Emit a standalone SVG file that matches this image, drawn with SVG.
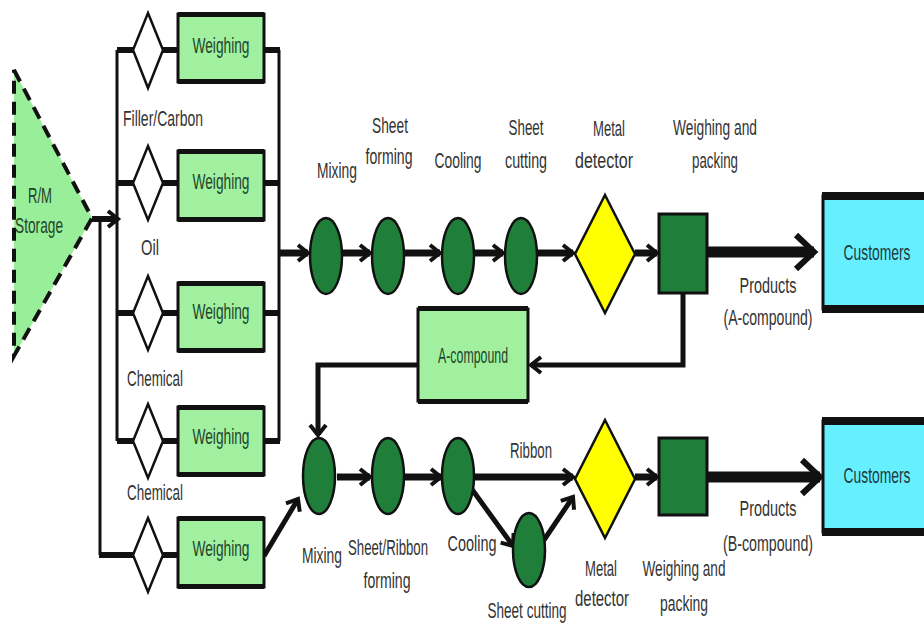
<svg xmlns="http://www.w3.org/2000/svg" width="924" height="624" viewBox="0 0 924 624">
<defs>
<style>
.t{font-family:"Liberation Sans",Arial,sans-serif;font-size:22px;fill:#333;text-anchor:middle}
.bt{fill:#24442a}
.ct{fill:#1f3a40}
.box{fill:#a0f0a0;stroke:#111;stroke-width:3}
.band{fill:#111}
.dia{fill:#fff;stroke:#111;stroke-width:2.5}
.ell{fill:#1f7f3a;stroke:#111;stroke-width:2.5}
.sq{fill:#1f7f3a;stroke:#111;stroke-width:3}
.yd{fill:#ffff00;stroke:#111;stroke-width:2.5}
.cust{fill:#66f0ff;stroke:#111;stroke-width:3}
.w{fill:none;stroke:#111;stroke-linecap:butt}
</style>
<marker id="ah" markerUnits="userSpaceOnUse" markerWidth="18" markerHeight="22" refX="12" refY="10" orient="auto">
<path d="M2,2 L12,10 L2,18" fill="none" stroke="#111" stroke-width="4"/>
</marker>
<marker id="ahb" markerUnits="userSpaceOnUse" markerWidth="30" markerHeight="44" refX="22" refY="20" orient="auto">
<path d="M4,3 L22,20 L4,37" fill="none" stroke="#111" stroke-width="6"/>
</marker>
</defs>
<rect width="924" height="624" fill="#fff"/>

<g id="connectors">
<path class="w" d="M92,219 H118" stroke-width="6" marker-end="url(#ah)"/>
<path class="w" d="M117,50 V441" stroke-width="3"/>
<path class="w" d="M100,219 V555" stroke-width="3"/>
<path class="w" d="M117,50 H134 M117,183 H134 M117,313 H134 M117,441 H134" stroke-width="6"/>
<path class="w" d="M99,555 H134" stroke-width="6"/>
<path class="w" d="M162,50 H179 M162,183 H179 M162,313 H179 M162,441 H179 M162,555 H179" stroke-width="6"/>
<path class="w" d="M263,50 H280 M263,183 H280 M263,313 H280 M263,441 H280" stroke-width="6"/>
<path class="w" d="M279,50 V441" stroke-width="3"/>
<path class="w" d="M279,253 H308" stroke-width="7" marker-end="url(#ah)"/>
<path class="w" d="M342,253 H370" stroke-width="7" marker-end="url(#ah)"/>
<path class="w" d="M404,253 H440" stroke-width="7" marker-end="url(#ah)"/>
<path class="w" d="M474,253 H503" stroke-width="7" marker-end="url(#ah)"/>
<path class="w" d="M537,253 H573" stroke-width="7" marker-end="url(#ah)"/>
<path class="w" d="M635,253 H657" stroke-width="7" marker-end="url(#ah)"/>
<path class="w" d="M707,252 H814" stroke-width="11" marker-end="url(#ahb)"/>
<path class="w" d="M683,293 V365 H531" stroke-width="5" marker-end="url(#ah)"/>
<path class="w" d="M418,365 H318 V435" stroke-width="5" marker-end="url(#ah)"/>
<path class="w" d="M264,556 L298,499" stroke-width="5" marker-end="url(#ah)"/>
<path class="w" d="M337,477 H370" stroke-width="7" marker-end="url(#ah)"/>
<path class="w" d="M404,477 H441" stroke-width="7" marker-end="url(#ah)"/>
<path class="w" d="M473,477 H573" stroke-width="7" marker-end="url(#ah)"/>
<path class="w" d="M471,488 L513,546" stroke-width="5" marker-end="url(#ah)"/>
<path class="w" d="M544,540 L573,497" stroke-width="5" marker-end="url(#ah)"/>
<path class="w" d="M635,477 H657" stroke-width="7" marker-end="url(#ah)"/>
<path class="w" d="M707,477 H820" stroke-width="11" marker-end="url(#ahb)"/>
</g>

<g id="storage">
<polygon points="14,70 92,218 14,356" fill="#99ee99" stroke="#111" stroke-width="4" stroke-dasharray="13,8"/>
<text class="t bt" transform="translate(40,203) scale(0.63,1)" textLength="38.1" lengthAdjust="spacingAndGlyphs">R/M</text>
<text class="t bt" transform="translate(39,233) scale(0.63,1)" textLength="76.2" lengthAdjust="spacingAndGlyphs">Storage</text>
</g>

<g id="valve1"><polygon class="dia" points="148,13 163,50 148,88 133,50"/></g>
<g id="valve2"><polygon class="dia" points="148,146 163,183 148,220 133,183"/></g>
<g id="valve3"><polygon class="dia" points="148,276 163,313 148,350 133,313"/></g>
<g id="valve4"><polygon class="dia" points="148,404 163,441 148,478 133,441"/></g>
<g id="valve5"><polygon class="dia" points="148,518 163,555 148,592 133,555"/></g>

<g id="weigh1"><rect class="box" x="178" y="14" width="86" height="68"/><rect class="band" x="178" y="12" width="86" height="5"/><rect class="band" x="178" y="79" width="86" height="5"/><text class="t bt" transform="translate(221,53) scale(0.63,1)" textLength="90.5" lengthAdjust="spacingAndGlyphs">Weighing</text></g>
<g id="weigh2"><rect class="box" x="178" y="151" width="86" height="69"/><rect class="band" x="178" y="149" width="86" height="5"/><rect class="band" x="178" y="217" width="86" height="5"/><text class="t bt" transform="translate(221,189) scale(0.63,1)" textLength="90.5" lengthAdjust="spacingAndGlyphs">Weighing</text></g>
<g id="weigh3"><rect class="box" x="178" y="283" width="86" height="68"/><rect class="band" x="178" y="281" width="86" height="5"/><rect class="band" x="178" y="348" width="86" height="5"/><text class="t bt" transform="translate(221,319) scale(0.63,1)" textLength="90.5" lengthAdjust="spacingAndGlyphs">Weighing</text></g>
<g id="weigh4"><rect class="box" x="178" y="407" width="86" height="68"/><rect class="band" x="178" y="405" width="86" height="5"/><rect class="band" x="178" y="472" width="86" height="5"/><text class="t bt" transform="translate(221,444) scale(0.63,1)" textLength="90.5" lengthAdjust="spacingAndGlyphs">Weighing</text></g>
<g id="weigh5"><rect class="box" x="178" y="518" width="86" height="69"/><rect class="band" x="178" y="516" width="86" height="5"/><rect class="band" x="178" y="584" width="86" height="5"/><text class="t bt" transform="translate(221,556) scale(0.63,1)" textLength="90.5" lengthAdjust="spacingAndGlyphs">Weighing</text></g>

<g id="labels-left">
<text class="t" transform="translate(163,126) scale(0.63,1)" textLength="127" lengthAdjust="spacingAndGlyphs">Filler/Carbon</text>
<text class="t" transform="translate(150,255) scale(0.63,1)" textLength="28.6" lengthAdjust="spacingAndGlyphs">Oil</text>
<text class="t" transform="translate(155,386) scale(0.63,1)" textLength="88.9" lengthAdjust="spacingAndGlyphs">Chemical</text>
<text class="t" transform="translate(155,500) scale(0.63,1)" textLength="88.9" lengthAdjust="spacingAndGlyphs">Chemical</text>
</g>

<g id="mixA"><ellipse class="ell" cx="326" cy="256" rx="16" ry="38"/><text class="t" transform="translate(337,178) scale(0.63,1)" textLength="63.5" lengthAdjust="spacingAndGlyphs">Mixing</text></g>
<g id="sheetA"><ellipse class="ell" cx="388" cy="256" rx="16" ry="38"/><text class="t" transform="translate(390,133) scale(0.63,1)" textLength="57.1" lengthAdjust="spacingAndGlyphs">Sheet</text><text class="t" transform="translate(389,164) scale(0.63,1)" textLength="74.6" lengthAdjust="spacingAndGlyphs">forming</text></g>
<g id="coolA"><ellipse class="ell" cx="458" cy="256" rx="16" ry="38"/><text class="t" transform="translate(458,168) scale(0.63,1)" textLength="74.6" lengthAdjust="spacingAndGlyphs">Cooling</text></g>
<g id="cutA"><ellipse class="ell" cx="521" cy="256" rx="16" ry="38"/><text class="t" transform="translate(526,135) scale(0.63,1)" textLength="55.6" lengthAdjust="spacingAndGlyphs">Sheet</text><text class="t" transform="translate(526,168) scale(0.63,1)" textLength="66.7" lengthAdjust="spacingAndGlyphs">cutting</text></g>
<g id="metalA"><polygon class="yd" points="605,195 635,254 605,313 575,254"/><text class="t" transform="translate(609,136) scale(0.63,1)" textLength="50.8" lengthAdjust="spacingAndGlyphs">Metal</text><text class="t" transform="translate(604,168) scale(0.63,1)" textLength="92.1" lengthAdjust="spacingAndGlyphs">detector</text></g>
<g id="packA"><rect class="sq" x="659" y="214" width="48" height="79"/><text class="t" transform="translate(715,135) scale(0.63,1)" textLength="133.3" lengthAdjust="spacingAndGlyphs">Weighing and</text><text class="t" transform="translate(715,168) scale(0.63,1)" textLength="73" lengthAdjust="spacingAndGlyphs">packing</text></g>
<g id="customersA"><rect class="cust" x="823" y="196" width="104" height="113"/><rect class="band" x="822" y="192" width="104" height="8"/><rect class="band" x="822" y="305" width="104" height="8"/><text class="t ct" transform="translate(877,260) scale(0.63,1)" textLength="106.3" lengthAdjust="spacingAndGlyphs">Customers</text></g>
<g id="productsA"><text class="t" transform="translate(768,293) scale(0.63,1)" textLength="90.5" lengthAdjust="spacingAndGlyphs">Products</text><text class="t" transform="translate(768,325) scale(0.63,1)" textLength="141.3" lengthAdjust="spacingAndGlyphs">(A-compound)</text></g>

<g id="acompound"><rect class="box" x="418" y="309" width="110" height="92"/><rect class="band" x="418" y="306" width="110" height="5"/><rect class="band" x="418" y="399" width="110" height="5"/><text class="t bt" transform="translate(473,363) scale(0.63,1)" textLength="111.1" lengthAdjust="spacingAndGlyphs">A-compound</text></g>

<g id="mixB"><ellipse class="ell" cx="319" cy="476" rx="16" ry="38"/><text class="t" transform="translate(322,563) scale(0.63,1)" textLength="63.5" lengthAdjust="spacingAndGlyphs">Mixing</text></g>
<g id="sheetB"><ellipse class="ell" cx="388" cy="476" rx="16" ry="38"/><text class="t" transform="translate(388,555) scale(0.63,1)" textLength="127" lengthAdjust="spacingAndGlyphs">Sheet/Ribbon</text><text class="t" transform="translate(387,588) scale(0.63,1)" textLength="74.6" lengthAdjust="spacingAndGlyphs">forming</text></g>
<g id="coolB"><ellipse class="ell" cx="458" cy="476" rx="16" ry="38"/><text class="t" transform="translate(472,551) scale(0.63,1)" textLength="77.8" lengthAdjust="spacingAndGlyphs">Cooling</text></g>
<g id="cutB"><ellipse class="ell" cx="529" cy="550" rx="16" ry="37"/><text class="t" transform="translate(527,618) scale(0.63,1)" textLength="125.4" lengthAdjust="spacingAndGlyphs">Sheet cutting</text></g>
<g id="ribbon"><text class="t" transform="translate(531,458) scale(0.63,1)" textLength="66.7" lengthAdjust="spacingAndGlyphs">Ribbon</text></g>
<g id="metalB"><polygon class="yd" points="605,420 635,479 605,538 575,479"/><text class="t" transform="translate(601,576) scale(0.63,1)" textLength="50.8" lengthAdjust="spacingAndGlyphs">Metal</text><text class="t" transform="translate(602,606) scale(0.63,1)" textLength="85.7" lengthAdjust="spacingAndGlyphs">detector</text></g>
<g id="packB"><rect class="sq" x="659" y="438" width="48" height="77"/><text class="t" transform="translate(684,576) scale(0.63,1)" textLength="131.7" lengthAdjust="spacingAndGlyphs">Weighing and</text><text class="t" transform="translate(684,611) scale(0.63,1)" textLength="76.2" lengthAdjust="spacingAndGlyphs">packing</text></g>
<g id="customersB"><rect class="cust" x="823" y="421" width="104" height="111"/><rect class="band" x="822" y="417" width="104" height="8"/><rect class="band" x="822" y="528" width="104" height="8"/><text class="t ct" transform="translate(877,483) scale(0.63,1)" textLength="106.3" lengthAdjust="spacingAndGlyphs">Customers</text></g>
<g id="productsB"><text class="t" transform="translate(768,516) scale(0.63,1)" textLength="90.5" lengthAdjust="spacingAndGlyphs">Products</text><text class="t" transform="translate(768,551) scale(0.63,1)" textLength="142.9" lengthAdjust="spacingAndGlyphs">(B-compound)</text></g>
</svg>
